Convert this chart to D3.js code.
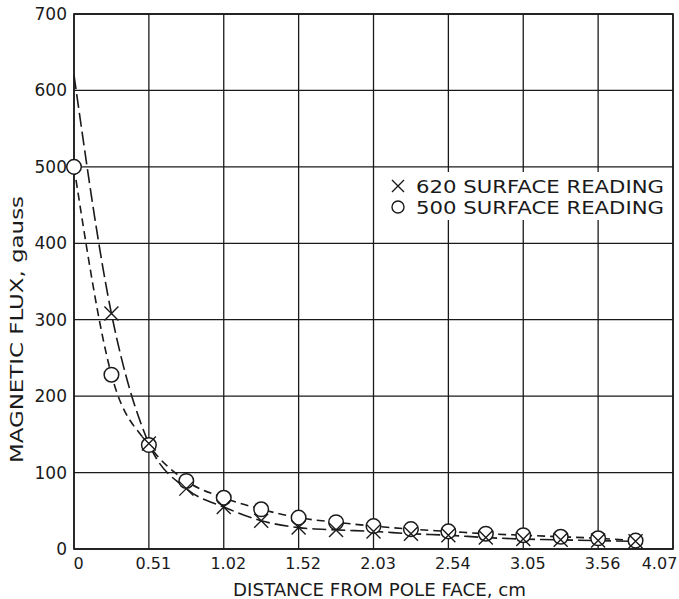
<!DOCTYPE html>
<html>
<head>
<meta charset="utf-8">
<script src="https://cdn.jsdelivr.net/npm/d3@7"></script>
<style>
  html, body { margin: 0; padding: 0; background: #fff; }
  text { font-family: "DejaVu Sans", "Liberation Sans", Arial, sans-serif; fill: #1a1a1a; }
</style>
</head>
<body>
<svg id="chart" width="679" height="599"></svg>
<script>
// ---- data ----
const xTickValues = [0, 0.508, 1.016, 1.524, 2.032, 2.54, 3.048, 3.556, 4.064];
const xTickLabels = ["0", "0.51", "1.02", "1.52", "2.03", "2.54", "3.05", "3.56", "4.07"];
const yTickValues = [0, 100, 200, 300, 400, 500, 600, 700];

const circleX = [0, 0.254, 0.508, 0.762, 1.016, 1.27, 1.524, 1.778, 2.032, 2.286, 2.54, 2.794, 3.048, 3.302, 3.556, 3.81];
const circleY = [500, 228, 136, 89, 67, 52, 41, 35, 30, 26, 23, 20, 18, 16, 14, 11];

const crossX = [0.254, 0.508, 0.762, 1.016, 1.27, 1.524, 1.778, 2.032, 2.286, 2.54, 2.794, 3.048, 3.302, 3.556, 3.81];
const crossY = [308, 138, 79, 55, 37, 28, 25, 23, 20, 18, 15, 13, 12, 11, 10];
const surface620 = 620;

const legendLabels = ["620 SURFACE READING", "500 SURFACE READING"];
const xTitle = "DISTANCE FROM POLE FACE, cm";
const yTitle = "MAGNETIC FLUX, gauss";

// ---- layout ----
const svg = d3.select("#chart");
const mLeft = 74, mRight = 673, mTop = 14, mBottom = 549;
const x = d3.scaleLinear().domain([0, 4.064]).range([mLeft, mRight]);
const y = d3.scaleLinear().domain([0, 700]).range([mBottom, mTop]);
const ink = "#1a1a1a";

// grid
const g = svg.append("g");
g.selectAll("line.vg").data(xTickValues).join("line")
  .attr("x1", d => x(d)).attr("x2", d => x(d))
  .attr("y1", mTop).attr("y2", mBottom)
  .attr("stroke", ink).attr("stroke-width", 1.3);
g.selectAll("line.hg").data(yTickValues).join("line")
  .attr("x1", mLeft).attr("x2", mRight)
  .attr("y1", d => y(d)).attr("y2", d => y(d))
  .attr("stroke", ink).attr("stroke-width", 1.3);
g.append("rect").attr("x", mLeft).attr("y", mTop)
  .attr("width", mRight - mLeft).attr("height", mBottom - mTop)
  .attr("fill", "none").attr("stroke", ink).attr("stroke-width", 1.6);

// axes labels via d3 axes (lines hidden)
const xAxis = d3.axisBottom(x).tickValues(xTickValues)
  .tickFormat((d, i) => xTickLabels[i]).tickSize(0).tickPadding(9);
const xa = svg.append("g").attr("transform", `translate(0,${mBottom})`).call(xAxis);
xa.select(".domain").remove();
xa.selectAll("text").attr("font-size", 16).attr("font-family", "DejaVu Sans, sans-serif").attr("fill", ink)
  .attr("dx", (d, i) => i === xTickLabels.length - 1 ? -14 : 4);

const yAxis = d3.axisLeft(y).tickValues(yTickValues).tickSize(0).tickPadding(7);
const ya = svg.append("g").attr("transform", `translate(${mLeft},0)`).call(yAxis);
ya.select(".domain").remove();
ya.selectAll("text").attr("font-size", 17).attr("font-family", "DejaVu Sans, sans-serif").attr("fill", ink);

// titles
svg.append("text").attr("x", 233).attr("y", 596)
  .attr("font-size", 17).attr("textLength", 293).attr("lengthAdjust", "spacingAndGlyphs").text(xTitle);
svg.append("text").attr("transform", "translate(23,463) rotate(-90)")
  .attr("font-size", 17).attr("textLength", 267).attr("lengthAdjust", "spacingAndGlyphs").text(yTitle);

// curves
const line = d3.line().x(d => x(d[0])).y(d => y(d[1])).curve(d3.curveMonotoneX);
const crossLine = [[0, surface620]].concat(crossX.map((d, i) => [d, crossY[i]]));
const circleLine = circleX.map((d, i) => [d, circleY[i]]);

svg.append("path").datum(crossLine).attr("d", line)
  .attr("fill", "none").attr("stroke", ink).attr("stroke-width", 1.6)
  .attr("stroke-dasharray", "14,5");
svg.append("path").datum(circleLine).attr("d", line)
  .attr("fill", "none").attr("stroke", ink).attr("stroke-width", 1.6)
  .attr("stroke-dasharray", "8,5");

// markers
function drawCross(sel, cx, cy, s) {
  sel.append("path")
    .attr("d", `M${cx - s},${cy - s}L${cx + s},${cy + s}M${cx - s},${cy + s}L${cx + s},${cy - s}`)
    .attr("stroke", ink).attr("stroke-width", 1.4).attr("fill", "none");
}
const mk = svg.append("g");
circleX.forEach((d, i) => {
  mk.append("circle").attr("cx", x(d)).attr("cy", y(circleY[i])).attr("r", 7.3)
    .attr("fill", "#fff").attr("stroke", ink).attr("stroke-width", 1.5);
});
crossX.forEach((d, i) => drawCross(mk, x(d), y(crossY[i]), 7));

// legend
const lg = svg.append("g");
lg.append("rect").attr("x", 385).attr("y", 172).attr("width", 287).attr("height", 48).attr("fill", "#fff");
drawCross(lg, 398, 186, 6);
lg.append("circle").attr("cx", 398).attr("cy", 207).attr("r", 6)
  .attr("fill", "#fff").attr("stroke", ink).attr("stroke-width", 1.4);
lg.selectAll("text.leg").data(legendLabels).join("text")
  .attr("x", 416).attr("y", (d, i) => 192.5 + i * 21)
  .attr("font-size", 17.5).attr("textLength", 248).attr("lengthAdjust", "spacingAndGlyphs").text(d => d);
</script>
</body>
</html>
